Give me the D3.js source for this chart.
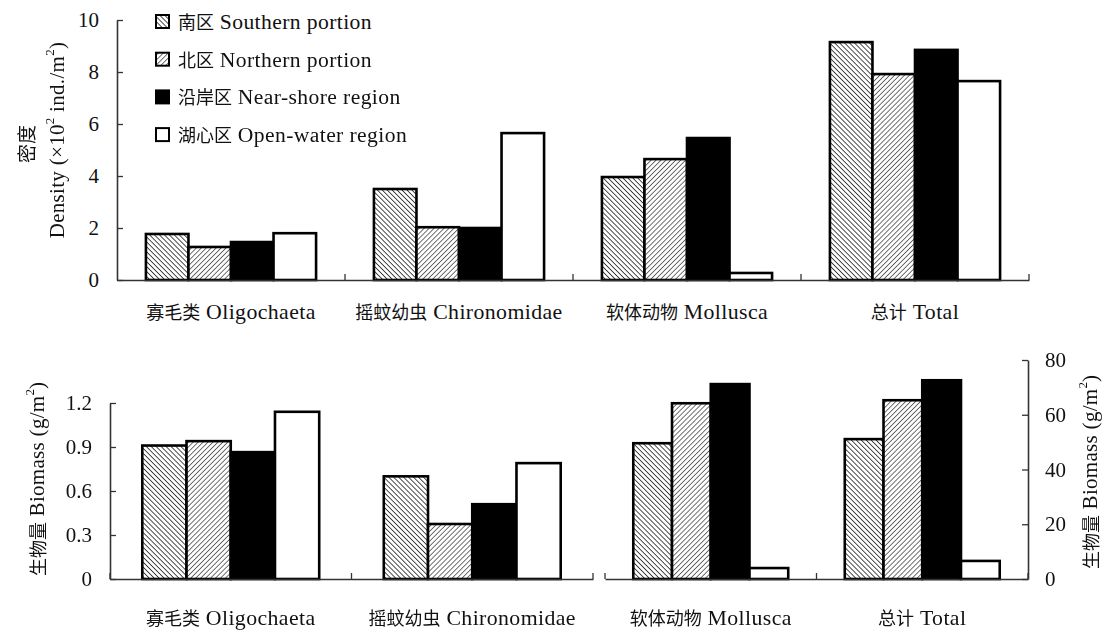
<!DOCTYPE html>
<html>
<head>
<meta charset="utf-8">
<script src="https://cdn.jsdelivr.net/npm/d3@7"></script>
<style>
  html, body { margin: 0; padding: 0; background: #fff; }
  svg text, svg tspan { font-family: "Liberation Serif", "Times New Roman", serif; }
  svg .cjk { font-family: "Noto Sans CJK SC", "Noto Sans CJK JP", sans-serif; }
</style>
</head>
<body>
<svg id="chart" width="1112" height="630"></svg>
<script>
// ---------------- data ----------------
const categoriesCN = ["寡毛类", "摇蚊幼虫", "软体动物", "总计"];
const categoriesEN = ["Oligochaeta", "Chironomidae", "Mollusca", "Total"];
const seriesKeys = ["south", "north", "nearshore", "open"];
const seriesCN = ["南区", "北区", "沿岸区", "湖心区"];
const seriesEN = ["Southern portion", "Northern portion", "Near-shore region", "Open-water region"];

// Density (×10² ind./m²)
const densitySouth     = [1.77, 3.50, 3.96, 9.15];
const densityNorth     = [1.27, 2.03, 4.65, 7.92];
const densityNearshore = [1.46, 2.00, 5.46, 8.85];
const densityOpen      = [1.80, 5.65, 0.27, 7.65];

// Biomass (g/m²): first two categories read on the left axis, last two on the right axis
const biomassSouth     = [0.91, 0.70, 49.6, 51.1];
const biomassNorth     = [0.94, 0.375, 64.2, 65.3];
const biomassNearshore = [0.865, 0.51, 71.2, 72.6];
const biomassOpen      = [1.14, 0.79, 4.0, 6.6];

const densityTicks = [0, 2, 4, 6, 8, 10];
const biomassLeftTicks = [0, 0.3, 0.6, 0.9, 1.2];
const biomassRightTicks = [0, 20, 40, 60, 80];

// ---------------- setup ----------------
const svg = d3.select("#chart");
const defs = svg.append("defs");
const SERIF = "'Liberation Serif', 'Times New Roman', serif";
const CJK = "'Noto Sans CJK SC', 'Noto Sans CJK JP', sans-serif";

defs.append("filter").attr("id", "gray")
  .append("feColorMatrix").attr("type", "saturate").attr("values", 0);

function hatch(id, angle, spacing, sw, color) {
  const p = defs.append("pattern").attr("id", id)
    .attr("patternUnits", "userSpaceOnUse")
    .attr("width", spacing).attr("height", spacing)
    .attr("patternTransform", `rotate(${angle})`);
  p.append("rect").attr("width", spacing).attr("height", spacing).attr("fill", "#fff");
  p.append("line").attr("x1", 0).attr("y1", 0).attr("x2", 0).attr("y2", spacing)
    .attr("stroke", color).attr("stroke-width", sw);
}
hatch("hSouth", -45, 3.5, 1.6, "#222");
hatch("hNorth", 45, 3.5, 1.4, "#333");

const fills = { south: "url(#hSouth)", north: "url(#hNorth)", nearshore: "#000", open: "#fff" };
const catKeys = categoriesEN;

function cjkSpan(sel, txt, size) {
  return sel.append("tspan").attr("class", "cjk").attr("font-family", CJK).attr("font-size", size).attr("fill", "#111").text(txt);
}
function serifSpan(sel, txt, size) {
  return sel.append("tspan").attr("font-family", SERIF).attr("font-size", size).attr("letter-spacing", 0.4).attr("fill", "#111").text(txt);
}
function catLabel(sel, i) {
  cjkSpan(sel, categoriesCN[i], 18);
  serifSpan(sel, " " + categoriesEN[i], 21.8);
}

const axisColor = "#333";

// ---------------- top panel: density ----------------
const yD = d3.scaleLinear().domain([0, 10]).range([280, 20]);
const xTop = d3.scaleBand().domain(catKeys).range([117, 1029]);
const x1Top = d3.scaleBand().domain(seriesKeys).range([0, xTop.bandwidth()]).paddingOuter(0.68);

const densityRows = catKeys.map((c, i) => ({
  cat: c,
  values: { south: densitySouth[i], north: densityNorth[i], nearshore: densityNearshore[i], open: densityOpen[i] }
}));

svg.append("g").selectAll("g.cat").data(densityRows).join("g")
  .attr("transform", d => `translate(${xTop(d.cat)},0)`)
  .selectAll("rect").data(d => seriesKeys.map(k => ({ k, v: d.values[k] }))).join("rect")
  .attr("x", d => x1Top(d.k))
  .attr("width", x1Top.bandwidth())
  .attr("y", d => yD(d.v))
  .attr("height", d => yD(0) - yD(d.v))
  .attr("fill", d => fills[d.k])
  .attr("stroke", "#000").attr("stroke-width", 2.6);

svg.append("g").attr("transform", `translate(${xTop.range()[0]},0)`)
  .call(d3.axisLeft(yD).tickValues(densityTicks).tickSize(-6).tickSizeOuter(0).tickPadding(18).tickFormat(d3.format("d")));
svg.append("g").attr("transform", `translate(0,${yD(0)})`)
  .call(d3.axisBottom(xTop).tickSize(0).tickSizeOuter(0).tickFormat(""));
const sepTop = catKeys.slice(1).map(c => xTop(c)).concat([xTop.range()[1]]);
svg.append("g").selectAll("line").data(sepTop).join("line")
  .attr("x1", d => d).attr("x2", d => d)
  .attr("y1", yD(0)).attr("y2", yD(0) - 6)
  .attr("stroke", axisColor).attr("stroke-width", 1.3);
svg.append("g").selectAll("text").data(catKeys).join("text")
  .attr("x", d => xTop(d) + xTop.bandwidth() / 2)
  .attr("y", yD(0) + 39)
  .attr("text-anchor", "middle")
  .each(function (d, i) { catLabel(d3.select(this), i); });

// titles (rotated; grayscale filter avoids colour fringes)
const titles = svg.append("g").attr("filter", "url(#gray)");
titles.append("text").attr("class", "cjk").attr("font-family", CJK).attr("fill", "#111")
  .attr("transform", `translate(25,144) rotate(-90)`)
  .attr("text-anchor", "middle").attr("dominant-baseline", "central")
  .attr("font-size", 19).text("密度");
const dTitle = titles.append("text").attr("font-family", SERIF).attr("fill", "#111")
  .attr("transform", `translate(57,140) rotate(-90)`)
  .attr("text-anchor", "middle").attr("dominant-baseline", "central")
  .attr("font-size", 21).attr("letter-spacing", 0.3);
dTitle.append("tspan").text("Density (×10");
dTitle.append("tspan").attr("font-size", 13).attr("dy", -8).text("2");
dTitle.append("tspan").attr("dy", 8).text(" ind./m");
dTitle.append("tspan").attr("font-size", 13).attr("dy", -8).text("2");
dTitle.append("tspan").attr("dy", 8).text(")");

// legend
const legRows = svg.append("g").selectAll("g").data(seriesKeys).join("g")
  .attr("transform", (d, i) => `translate(156,${22 + i * 37.7})`);
legRows.append("rect")
  .attr("x", 0).attr("y", -7).attr("width", 13).attr("height", 13)
  .attr("fill", d => fills[d]).attr("stroke", "#000").attr("stroke-width", 2);
legRows.append("text").attr("x", 22).attr("y", 7)
  .each(function (d, i) {
    const t = d3.select(this);
    cjkSpan(t, seriesCN[i], 18);
    serifSpan(t, " " + seriesEN[i], 21.6);
  });

// ---------------- bottom panel: biomass ----------------
const yL = d3.scaleLinear().domain([0, 1.2]).range([579, 403]);
const yR = d3.scaleLinear().domain([0, 80]).range([579, 360]);
const xL = d3.scaleBand().domain(catKeys.slice(0, 2)).range([110, 593]);
const xR = d3.scaleBand().domain(catKeys.slice(2)).range([605, 1028]);
const x1L = d3.scaleBand().domain(seriesKeys).range([0, xL.bandwidth()]).paddingOuter(0.73);
const x1R = d3.scaleBand().domain(seriesKeys).range([0, xR.bandwidth()]).paddingOuter(0.73);

const biomassRows = catKeys.map((c, i) => ({
  cat: c, idx: i,
  values: { south: biomassSouth[i], north: biomassNorth[i], nearshore: biomassNearshore[i], open: biomassOpen[i] }
}));

function drawBottom(rows, xs, x1, ys) {
  svg.append("g").selectAll("g").data(rows).join("g")
    .attr("transform", d => `translate(${xs(d.cat)},0)`)
    .selectAll("rect").data(d => seriesKeys.map(k => ({ k, v: d.values[k] }))).join("rect")
    .attr("x", d => x1(d.k))
    .attr("width", x1.bandwidth())
    .attr("y", d => ys(d.v))
    .attr("height", d => ys(0) - ys(d.v))
    .attr("fill", d => fills[d.k])
    .attr("stroke", "#000").attr("stroke-width", 2.6);
  svg.append("g").attr("transform", `translate(0,${ys(0)})`)
    .call(d3.axisBottom(xs).tickSize(0).tickSizeOuter(0).tickFormat(""));
  const seps = [xs.range()[0]].concat(xs.domain().slice(1).map(c => xs(c))).concat([xs.range()[1]]);
  svg.append("g").selectAll("line").data(seps).join("line")
    .attr("x1", d => d).attr("x2", d => d)
    .attr("y1", ys(0)).attr("y2", ys(0) - 6)
    .attr("stroke", axisColor).attr("stroke-width", 1.3);
  svg.append("g").selectAll("text").data(rows).join("text")
    .attr("x", d => xs(d.cat) + xs.bandwidth() / 2)
    .attr("y", ys(0) + 46)
    .attr("text-anchor", "middle")
    .each(function (d) { catLabel(d3.select(this), d.idx); });
}
drawBottom(biomassRows.slice(0, 2), xL, x1L, yL);
drawBottom(biomassRows.slice(2), xR, x1R, yR);

svg.append("g").attr("transform", `translate(${xL.range()[0]},0)`)
  .call(d3.axisLeft(yL).tickValues(biomassLeftTicks).tickSize(-6).tickSizeOuter(0).tickPadding(18)
    .tickFormat(d => d === 0 ? "0" : d3.format(".1f")(d)));
svg.append("g").attr("transform", `translate(${xR.range()[1]},0)`)
  .call(d3.axisRight(yR).tickValues(biomassRightTicks).tickSize(-6).tickSizeOuter(0).tickPadding(17).tickFormat(d3.format("d")));

function bioTitle(x, y) {
  const t = titles.append("text").attr("font-family", SERIF).attr("fill", "#111")
    .attr("transform", `translate(${x},${y}) rotate(-90)`)
    .attr("text-anchor", "middle").attr("dominant-baseline", "central")
    .attr("font-size", 21);
  cjkSpan(t, "生物量", 18);
  t.append("tspan").attr("letter-spacing", 0.3).text(" Biomass (g/m");
  t.append("tspan").attr("font-size", 13).attr("dy", -8).text("2");
  t.append("tspan").attr("dy", 8).text(")");
}
bioTitle(37, 479);
bioTitle(1090, 472);

// axis styling
svg.selectAll(".domain").attr("stroke", axisColor).attr("stroke-width", 1.6);
svg.selectAll(".tick line").attr("stroke", axisColor).attr("stroke-width", 1.3);
svg.selectAll(".tick text").attr("font-family", SERIF).attr("font-size", 21).attr("fill", "#111");
</script>
</body>
</html>
